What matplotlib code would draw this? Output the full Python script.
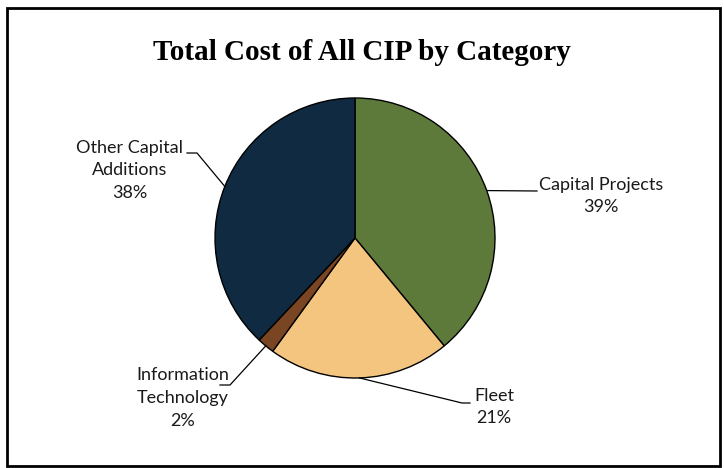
import numpy as np
import matplotlib.pyplot as plt
from matplotlib.patches import Rectangle

# Data
categories = ['Capital Projects', 'Fleet', 'Information\nTechnology', 'Other Capital\nAdditions']
shares = [39, 21, 2, 38]
colors = ['#5E7A3A', '#F3C57F', '#7A4522', '#0F2A41']

# label layout (pixel positions, y from top): text centre and leader elbow
label_xy = [(601, 196), (494, 407), (183, 398), (130, 170)]
elbows = [[(537, 191)], [(462, 403), (470, 403)], [(230, 385), (220, 385)], [(197, 153), (187, 153)]]

center = (355, 238)
radius = 140

fig = plt.figure(figsize=(7.24, 4.68), dpi=100)
ax = fig.add_axes([0, 0, 1, 1])

ax.pie(shares, colors=colors, startangle=-90, counterclock=True,
       center=center, radius=radius,
       wedgeprops=dict(edgecolor='black', linewidth=1.0))

ax.set_xlim(0, 724)
ax.set_ylim(468, 0)
ax.set_aspect('equal')
ax.axis('off')

# labels and leader lines
total = sum(shares)
cum = np.cumsum([0] + shares)
for i, name in enumerate(categories):
    mid = (cum[i] + cum[i + 1]) / 2 / total
    theta = np.deg2rad(-90 + 360 * mid)
    px = center[0] + radius * np.cos(theta)
    py = center[1] + radius * np.sin(theta)
    pts = [(px, py)] + elbows[i]
    ax.plot([p[0] for p in pts], [p[1] for p in pts], color='black', lw=0.9)
    pct = round(100 * shares[i] / total)
    ax.text(label_xy[i][0], label_xy[i][1], f'{name}\n{pct}%',
            ha='center', va='center', fontsize=13, family='Lato',
            color='#1a1a1a', linespacing=1.5)

fig.text(0.5, 1 - 52 / 468, 'Total Cost of All CIP by Category',
         ha='center', va='center', fontsize=21, fontweight='bold',
         family='Liberation Serif')

# outer frame
fig.patches.append(Rectangle((7 / 724, 2 / 468), 713 / 724, 458 / 468,
                             transform=fig.transFigure, fill=False,
                             edgecolor='black', linewidth=2))

plt.savefig('out.png', dpi=100)
